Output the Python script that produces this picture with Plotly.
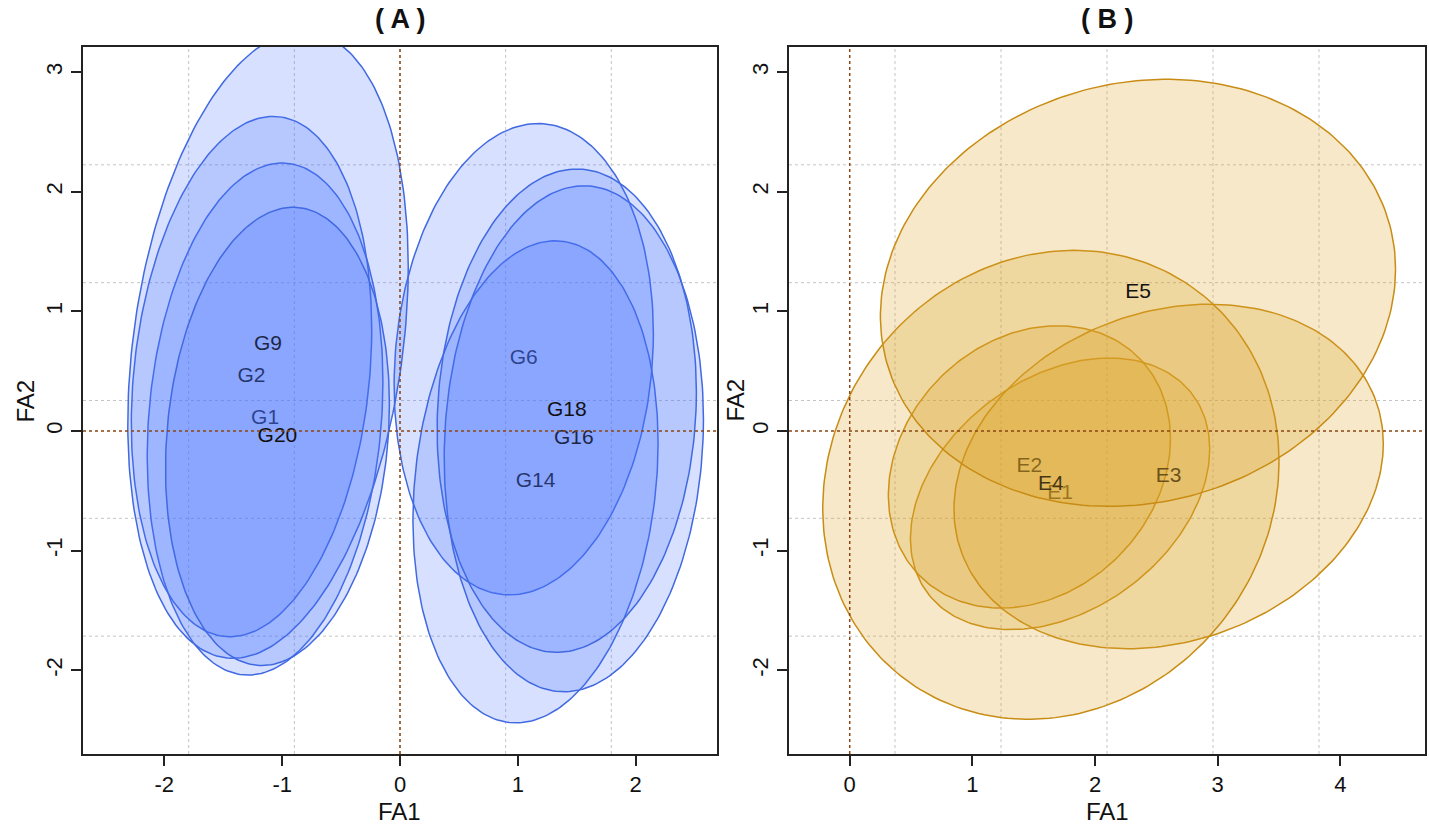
import numpy as np
import plotly.graph_objects as go

# ---------------- data ----------------
# Panel A: genotype confidence ellipses (drawing order)
geno = ["G1", "G2", "G6", "G9", "G14", "G16", "G18", "G20"]
geno_cx = [-1.145, -1.26, 1.05, -1.12, 1.15, 1.475, 1.415, -1.04]
geno_cy = [0.10, 0.455, 0.60, 0.72, -0.425, -0.065, 0.17, -0.045]
geno_a = [1.00, 1.02, 1.10, 1.19, 1.04, 1.10, 1.10, 0.95]
geno_b = [2.14, 2.175, 1.97, 2.62, 2.015, 2.115, 2.02, 1.915]
geno_rho = [0.145, 0.18, 0.11, 0.25, 0.16, 0.077, 0.077, 0.14]

# Panel B: environment confidence ellipses
env = ["E1", "E2", "E3", "E4", "E5"]
env_cx = [1.715, 1.465, 2.60, 1.64, 2.35]
env_cy = [-0.525, -0.30, -0.38, -0.45, 1.155]
env_a = [1.22, 1.15, 1.75, 1.86, 2.10]
env_b = [1.135, 1.18, 1.44, 1.96, 1.785]
env_rho = [0.33, 0.20, 0.19, 0.10, 0.11]

xrange_a = [-2.69, 2.69]
xrange_b = [-0.495, 4.69]
yrange = [-2.70, 3.21]
xticks_a = [-2, -1, 0, 1, 2]
xticks_b = [0, 1, 2, 3, 4]
yticks = [-2, -1, 0, 1, 2, 3]

FONT = "Arial, Liberation Sans, sans-serif"
BLUE_LINE = "rgb(65,105,225)"
BLUE_FILL = "rgba(75,115,255,0.22)"
GOLD_LINE = "rgb(200,140,20)"
GOLD_FILL = "rgba(218,165,40,0.25)"


def ellipse(cx, cy, a, b, rho, n=240):
    t = np.linspace(0, 2 * np.pi, n)
    phi = np.arccos(rho)
    return cx + a * np.cos(t), cy + b * np.cos(t - phi)


fig = go.Figure()

for name, cx, cy, a, b, r in zip(geno, geno_cx, geno_cy, geno_a, geno_b, geno_rho):
    ex, ey = ellipse(cx, cy, a, b, r)
    fig.add_trace(go.Scatter(x=ex, y=ey, mode="lines", fill="toself",
                             fillcolor=BLUE_FILL, line=dict(color=BLUE_LINE, width=1.5),
                             xaxis="x", yaxis="y", hoverinfo="skip", showlegend=False))
    fig.add_trace(go.Scatter(x=[cx], y=[cy], mode="text", text=[name],
                             textposition="middle center",
                             textfont=dict(family=FONT, size=21, color="#111111"),
                             xaxis="x", yaxis="y", hoverinfo="skip", showlegend=False))

for name, cx, cy, a, b, r in zip(env, env_cx, env_cy, env_a, env_b, env_rho):
    ex, ey = ellipse(cx, cy, a, b, r)
    fig.add_trace(go.Scatter(x=ex, y=ey, mode="lines", fill="toself",
                             fillcolor=GOLD_FILL, line=dict(color=GOLD_LINE, width=1.5),
                             xaxis="x2", yaxis="y2", hoverinfo="skip", showlegend=False))
    fig.add_trace(go.Scatter(x=[cx], y=[cy], mode="text", text=[name],
                             textposition="middle center",
                             textfont=dict(family=FONT, size=21, color="#111111"),
                             xaxis="x2", yaxis="y2", hoverinfo="skip", showlegend=False))

# grid lines (R grid(): 6 equal divisions of the plot range) and zero lines
shapes = []
grid_style = dict(color="#c4c4c4", width=1, dash="dot")
zero_style = dict(color="#8B4513", width=1.5, dash="dot")
for xr, xref, yref in [(xrange_a, "x", "y"), (xrange_b, "x2", "y2")]:
    for k in range(1, 6):
        gx = xr[0] + k * (xr[1] - xr[0]) / 6
        shapes.append(dict(type="line", xref=xref, yref=yref, x0=gx, x1=gx,
                           y0=yrange[0], y1=yrange[1], line=grid_style, layer="below"))
        gy = yrange[0] + k * (yrange[1] - yrange[0]) / 6
        shapes.append(dict(type="line", xref=xref, yref=yref, x0=xr[0], x1=xr[1],
                           y0=gy, y1=gy, line=grid_style, layer="below"))
    shapes.append(dict(type="line", xref=xref, yref=yref, x0=0, x1=0,
                       y0=yrange[0], y1=yrange[1], line=zero_style, layer="above"))
    shapes.append(dict(type="line", xref=xref, yref=yref, x0=xr[0], x1=xr[1],
                       y0=0, y1=0, line=zero_style, layer="above"))

W, H = 1429, 826
dom_y = [1 - 754 / H, 1 - 47 / H]
dom_xa = [83 / W, 717 / W]
dom_xb = [789 / W, 1425 / W]

axis_common = dict(showline=True, mirror=True, linecolor="#222222", linewidth=1.5,
                   ticks="outside", ticklen=10, tickwidth=1.5, tickcolor="#222222",
                   showgrid=False, zeroline=False,
                   tickfont=dict(family=FONT, size=22, color="#111111"))

annotations = [
    dict(text="<b>( A )</b>", x=(dom_xa[0] + dom_xa[1]) / 2, y=1 - 19 / H, xref="paper",
         yref="paper", showarrow=False, font=dict(family=FONT, size=27, color="#111111"),
         xanchor="center", yanchor="middle"),
    dict(text="<b>( B )</b>", x=(dom_xb[0] + dom_xb[1]) / 2, y=1 - 19 / H, xref="paper",
         yref="paper", showarrow=False, font=dict(family=FONT, size=27, color="#111111"),
         xanchor="center", yanchor="middle"),
    dict(text="FA1", x=(dom_xa[0] + dom_xa[1]) / 2, y=1 - 811 / H, xref="paper",
         yref="paper", showarrow=False, font=dict(family=FONT, size=24, color="#111111"),
         xanchor="center", yanchor="middle"),
    dict(text="FA1", x=(dom_xb[0] + dom_xb[1]) / 2, y=1 - 811 / H, xref="paper",
         yref="paper", showarrow=False, font=dict(family=FONT, size=24, color="#111111"),
         xanchor="center", yanchor="middle"),
    dict(text="FA2", x=25 / W, y=(dom_y[0] + dom_y[1]) / 2, xref="paper",
         yref="paper", showarrow=False, textangle=-90,
         font=dict(family=FONT, size=24, color="#111111"),
         xanchor="center", yanchor="middle"),
    dict(text="FA2", x=735 / W, y=(dom_y[0] + dom_y[1]) / 2, xref="paper",
         yref="paper", showarrow=False, textangle=-90,
         font=dict(family=FONT, size=24, color="#111111"),
         xanchor="center", yanchor="middle"),
]

fig.update_layout(
    width=W, height=H, margin=dict(l=0, r=0, t=0, b=0),
    paper_bgcolor="white", plot_bgcolor="white",
    xaxis=dict(domain=dom_xa, range=xrange_a, tickvals=xticks_a,
               ticktext=[str(v) for v in xticks_a], anchor="y", **axis_common),
    yaxis=dict(domain=dom_y, range=yrange, tickvals=yticks,
               ticktext=[str(v) for v in yticks], anchor="x", tickangle=-90,
               **axis_common),
    xaxis2=dict(domain=dom_xb, range=xrange_b, tickvals=xticks_b,
                ticktext=[str(v) for v in xticks_b], anchor="y2", **axis_common),
    yaxis2=dict(domain=dom_y, range=yrange, tickvals=yticks,
                ticktext=[str(v) for v in yticks], anchor="x2", tickangle=-90,
                **axis_common),
    shapes=shapes, annotations=annotations, showlegend=False,
)

fig.write_html("out.html")
